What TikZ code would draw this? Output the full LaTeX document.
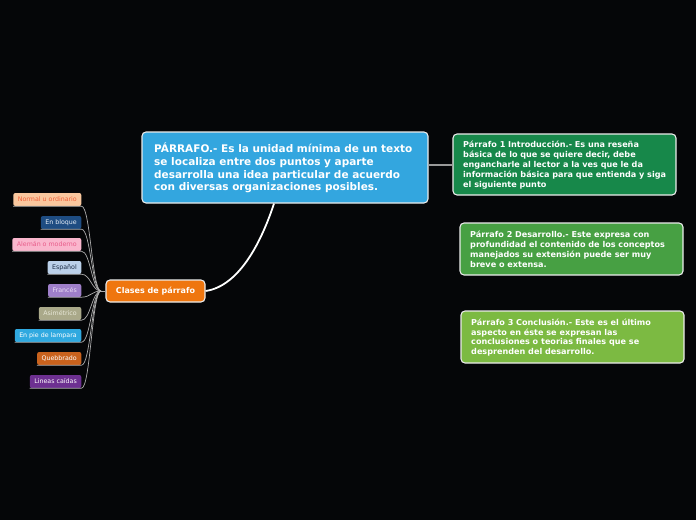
\documentclass[tikz,border=0pt]{standalone}
\usepackage{fontspec}
\setmainfont{DejaVu Sans}
\begin{document}
\begin{tikzpicture}[x=1pt,y=-1pt,
  box/.style={draw=white!92!black, line width=1.1pt, rounded corners=4pt, inner sep=0pt},
  txt/.style={anchor=west, align=left, text=white, inner sep=0pt, font=\bfseries},
  leaf/.style={anchor=east, rounded corners=2pt, minimum height=13pt, inner xsep=4.5pt, inner ysep=0pt, font=\fontsize{6.3}{7.5}\selectfont},
  leafline/.style={draw=white!68!black, line width=0.7pt},
]
\definecolor{bg}{HTML}{050608}
\definecolor{cmain}{HTML}{33A6DF}
\definecolor{cpone}{HTML}{17884A}
\definecolor{cptwo}{HTML}{47A043}
\definecolor{cpthree}{HTML}{7CBA42}
\definecolor{cclases}{HTML}{EF760F}
\useasboundingbox (0,0) rectangle (696,520);
\fill[bg] (0,0) rectangle (696,520);

% main node
\node[box, fill=cmain, minimum width=286pt, minimum height=71pt] (main) at (285,167.5) {};
\node[txt, font=\bfseries\fontsize{10.5}{12.6}\selectfont] (maintxt) at (154,168)
 {PÁRRAFO.- Es la unidad mínima de un texto\\se localiza entre dos puntos y aparte\\desarrolla una idea particular de acuerdo\\con diversas organizaciones posibles.};

% paragraph nodes
\node[box, fill=cpone, minimum width=223pt, minimum height=61pt] (p1) at (564.5,164.5) {};
\node[txt, font=\bfseries\fontsize{8.1}{10}\selectfont] (p1txt) at (463,165)
 {Párrafo 1 Introducción.- Es una reseña\\básica de lo que se quiere decir, debe\\engancharle al lector a la ves que le da\\información básica para que entienda y siga\\el siguiente punto};

\node[box, fill=cptwo, minimum width=223pt, minimum height=52pt] (p2) at (571.5,249) {};
\node[txt, font=\bfseries\fontsize{8.1}{9.8}\selectfont] (p2txt) at (470,249.5)
 {Párrafo 2 Desarrollo.- Este expresa con\\profundidad el contenido de los conceptos\\manejados su extensión puede ser muy\\breve o extensa.};

\node[box, fill=cpthree, minimum width=223pt, minimum height=52pt] (p3) at (572.5,337) {};
\node[txt, font=\bfseries\fontsize{8.1}{9.8}\selectfont] (p3txt) at (471,337.5)
 {Párrafo 3 Conclusión.- Este es el último\\aspecto en éste se expresan las\\conclusiones o teorias finales que se\\desprenden del desarrollo.};

\draw[draw=white!60!black, line width=1.1pt] (main.east |- 0,165) coordinate (mr) -- (p1.west |- mr);

% clases node
\node[box, fill=cclases, minimum width=99pt, minimum height=22pt, font=\bfseries\fontsize{8}{9}\selectfont, text=white] (clases) at (155.5,291) {Clases de párrafo};

\draw[white, line width=1.8pt] (clases.east) .. controls (240,286) and (262,240) .. (main.south -| 274,0);

% leaves
\coordinate (hub) at (101,291);
\node[leaf, fill={rgb,255:red,250;green,199;blue,158}, text={rgb,255:red,240;green,96;blue,58}] (l1) at (81.5,199.5) {Normal u ordinario};
\node[leaf, fill={rgb,255:red,30;green,76;blue,130}, text={rgb,255:red,230;green,238;blue,248}] (l2) at (81.5,222.5) {En bloque};
\node[leaf, fill={rgb,255:red,250;green,182;blue,205}, text={rgb,255:red,232;green,92;blue,138}] (l3) at (81.5,244.5) {Alemán o moderno};
\node[leaf, fill={rgb,255:red,187;green,208;blue,234}, text={rgb,255:red,26;green,42;blue,68}] (l4) at (81.5,267.5) {Español};
\node[leaf, fill={rgb,255:red,159;green,127;blue,202}, text={rgb,255:red,234;green,221;blue,245}] (l5) at (81.5,290.5) {Francés};
\node[leaf, fill={rgb,255:red,170;green,169;blue,138}, text={rgb,255:red,232;green,232;blue,216}] (l6) at (81.5,313.5) {Asimétrico};
\node[leaf, fill={rgb,255:red,48;green,169;blue,224}, text=white] (l7) at (81.5,335.5) {En pie de lampara};
\node[leaf, fill={rgb,255:red,201;green,98;blue,29}, text=white] (l8) at (81.5,358.5) {Quebbrado};
\node[leaf, fill={rgb,255:red,109;green,48;blue,145}, text=white] (l9) at (81.5,381.5) {Lineas caídas};

\foreach \n in {l1,l2,l3,l4,l5,l6,l7,l8,l9}{
  \draw[leafline] (\n.south west) -- (\n.south east) .. controls +(9,0) and +(-9,0) .. (hub);
}
\draw[leafline, line width=1pt] (hub) -- (clases.west);
\end{tikzpicture}
\end{document}
